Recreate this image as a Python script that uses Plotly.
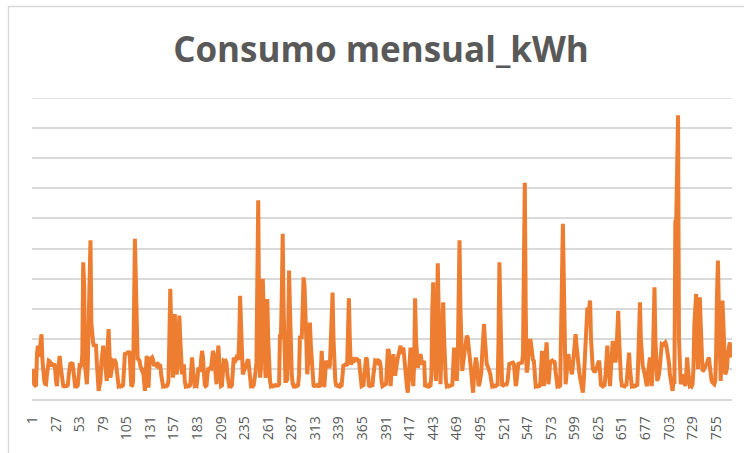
import plotly.graph_objects as go

# consumo mensual (kWh)
consumo = [
    99, 62, 48, 45, 47, 150, 177, 140, 165, 200,
    215, 130, 77, 60, 50, 49, 80, 115, 127, 125,
    120, 110, 115, 112, 118, 100, 60, 43, 90, 140,
    143, 110, 85, 50, 43, 42, 45, 44, 43, 46,
    80, 115, 121, 118, 121, 100, 48, 43, 44, 42,
    45, 70, 110, 108, 112, 150, 454, 380, 110, 60,
    49, 110, 280, 470, 527, 250, 193, 185, 175, 182,
    182, 120, 50, 27, 45, 60, 120, 160, 177, 150,
    110, 70, 60, 180, 232, 150, 71, 90, 120, 127,
    125, 127, 120, 80, 48, 43, 45, 42, 44, 43,
    46, 90, 154, 150, 152, 154, 150, 160, 100, 43,
    45, 60, 300, 532, 400, 140, 130, 132, 128, 110,
    93, 93, 95, 60, 27, 90, 143, 100, 38, 110,
    138, 135, 138, 130, 110, 115, 112, 115, 110, 115,
    113, 110, 80, 50, 43, 45, 42, 44, 43, 46,
    60, 200, 366, 250, 110, 71, 150, 282, 160, 82,
    100, 200, 277, 200, 110, 82, 100, 115, 60, 43,
    45, 42, 44, 43, 46, 90, 138, 100, 50, 43,
    44, 43, 70, 104, 100, 90, 130, 160, 140, 80,
    48, 43, 45, 80, 104, 100, 104, 102, 130, 160,
    150, 100, 60, 49, 120, 177, 130, 70, 43, 45,
    80, 127, 125, 127, 120, 80, 45, 43, 44, 42,
    46, 90, 138, 120, 130, 138, 135, 130, 200, 343,
    250, 110, 82, 90, 100, 115, 120, 125, 132, 100,
    45, 43, 44, 42, 46, 60, 90, 120, 300, 660,
    250, 71, 100, 250, 399, 300, 150, 71, 82, 332,
    200, 99, 60, 43, 45, 42, 44, 43, 46, 44,
    43, 45, 49, 215, 200, 350, 549, 300, 100, 60,
    60, 65, 200, 427, 300, 120, 82, 50, 43, 45,
    42, 44, 43, 46, 80, 210, 205, 200, 300, 404,
    380, 316, 200, 82, 120, 200, 254, 180, 127, 100,
    45, 43, 44, 42, 46, 43, 45, 44, 90, 160,
    90, 43, 45, 90, 127, 120, 110, 104, 110, 180,
    300, 354, 200, 82, 60, 45, 43, 44, 42, 46,
    43, 45, 80, 115, 112, 115, 115, 110, 200, 335,
    200, 115, 120, 130, 132, 128, 132, 130, 132, 128,
    132, 100, 60, 43, 45, 42, 80, 120, 138, 130,
    80, 45, 43, 44, 42, 46, 80, 120, 127, 125,
    127, 122, 127, 125, 110, 60, 43, 45, 49, 48,
    50, 100, 166, 160, 80, 43, 90, 140, 149, 110,
    77, 100, 130, 138, 150, 170, 177, 150, 160, 171,
    140, 93, 60, 40, 21, 60, 140, 171, 100, 60,
    43, 120, 335, 200, 110, 104, 120, 140, 149, 130,
    115, 120, 127, 45, 43, 44, 42, 46, 43, 45,
    80, 300, 388, 250, 100, 60, 200, 451, 300, 100,
    49, 150, 280, 321, 200, 93, 60, 43, 45, 42,
    44, 43, 46, 43, 120, 171, 150, 80, 60, 120,
    350, 527, 300, 150, 93, 120, 150, 180, 200, 210,
    205, 180, 150, 110, 88, 50, 21, 80, 130, 138,
    120, 80, 43, 50, 70, 88, 150, 220, 249, 200,
    150, 115, 110, 100, 90, 82, 60, 43, 45, 42,
    44, 43, 46, 43, 200, 454, 300, 90, 43, 45,
    49, 48, 50, 49, 60, 115, 121, 118, 121, 120,
    121, 115, 80, 43, 60, 110, 121, 118, 121, 120,
    121, 150, 450, 718, 300, 88, 100, 150, 190, 199,
    180, 150, 130, 127, 80, 43, 45, 42, 44, 43,
    46, 100, 160, 90, 43, 100, 170, 188, 120, 49,
    80, 127, 125, 127, 120, 127, 122, 90, 50, 43,
    45, 42, 44, 200, 471, 582, 400, 100, 49, 80,
    130, 149, 130, 110, 90, 82, 110, 150, 190, 215,
    180, 138, 110, 90, 71, 50, 30, 21, 60, 120,
    149, 220, 304, 280, 320, 327, 200, 115, 100, 95,
    88, 95, 100, 110, 120, 127, 90, 43, 45, 42,
    43, 46, 80, 150, 177, 120, 60, 43, 100, 180,
    193, 170, 140, 121, 150, 250, 293, 200, 104, 71,
    45, 43, 44, 42, 46, 43, 80, 149, 154, 100,
    60, 43, 45, 42, 44, 43, 46, 43, 120, 280,
    321, 200, 127, 110, 100, 88, 70, 50, 43, 90,
    130, 138, 100, 43, 100, 250, 371, 200, 60, 60,
    70, 82, 110, 150, 182, 180, 175, 185, 188, 180,
    160, 149, 120, 82, 60, 40, 27, 60, 50, 588,
    600, 760, 943, 200, 60, 49, 60, 70, 82, 60,
    43, 80, 138, 100, 60, 43, 45, 42, 49, 100,
    250, 340, 349, 200, 99, 200, 338, 250, 120, 93,
    95, 100, 104, 110, 120, 130, 138, 110, 71, 60,
    55, 50, 49, 60, 150, 350, 460, 300, 100, 60,
    150, 327, 250, 120, 82, 90, 104, 150, 170, 188,
    160, 138,
]
meses = list(range(1, len(consumo) + 1))
etiquetas = ["1", "27", "53", "79", "105", "131", "157", "183", "209", "235",
             "261", "287", "313", "339", "365", "391", "417", "443", "469", "495",
             "521", "547", "573", "599", "625", "651", "677", "703", "729", "755"]

fig = go.Figure(
    data=[
        go.Scatter(
            x=meses,
            y=consumo,
            mode='lines',
            line=dict(color='#ED7D31', width=4),
            name='Consumo mensual_kWh'
        )
    ]
)

fig.update_layout(
    width=744,
    height=453,
    margin=dict(l=32, r=12, t=98, b=54),
    paper_bgcolor='white',
    plot_bgcolor='white',
    showlegend=False,
    title=dict(
        text='<b>Consumo mensual_kWh</b>',
        x=381 / 744, xanchor='center',
        y=1 - 50 / 453, yanchor='middle',
        font=dict(family='Open Sans', size=35, color='#595959')
    ),
    shapes=[
        dict(type='rect', xref='paper', yref='paper',
             x0=-0.0336, x1=1.05, y0=-0.4, y1=1.304,
             line=dict(color='#d9d9d9', width=1.5), layer='below'),
        # linea de cuadricula superior (1000)
        dict(type='line', xref='paper', yref='y', x0=0, x1=1, y0=1000, y1=1000,
             line=dict(color='#d9d9d9', width=1.5), layer='below'),
    ]
)

fig.update_xaxes(
    range=[0.5, len(consumo) + 0.5],
    tickmode='array',
    tickvals=[int(e) for e in etiquetas],
    ticktext=etiquetas,
    tickangle=-90,
    ticks='outside', ticklen=10, tickcolor='rgba(0,0,0,0)',
    tickfont=dict(family='Open Sans', size=14, color='#595959'),
    showgrid=False,
    showline=True, linecolor='#d9d9d9', linewidth=1.5,
    zeroline=False
)
fig.update_yaxes(
    range=[0, 1000],
    dtick=100,
    showticklabels=False,
    showgrid=True, gridcolor='#d9d9d9', gridwidth=1.5,
    zeroline=False,
    showline=False
)

fig.write_html("out.html", config={'displayModeBar': False},
               post_script="document.body.style.margin='0';")
